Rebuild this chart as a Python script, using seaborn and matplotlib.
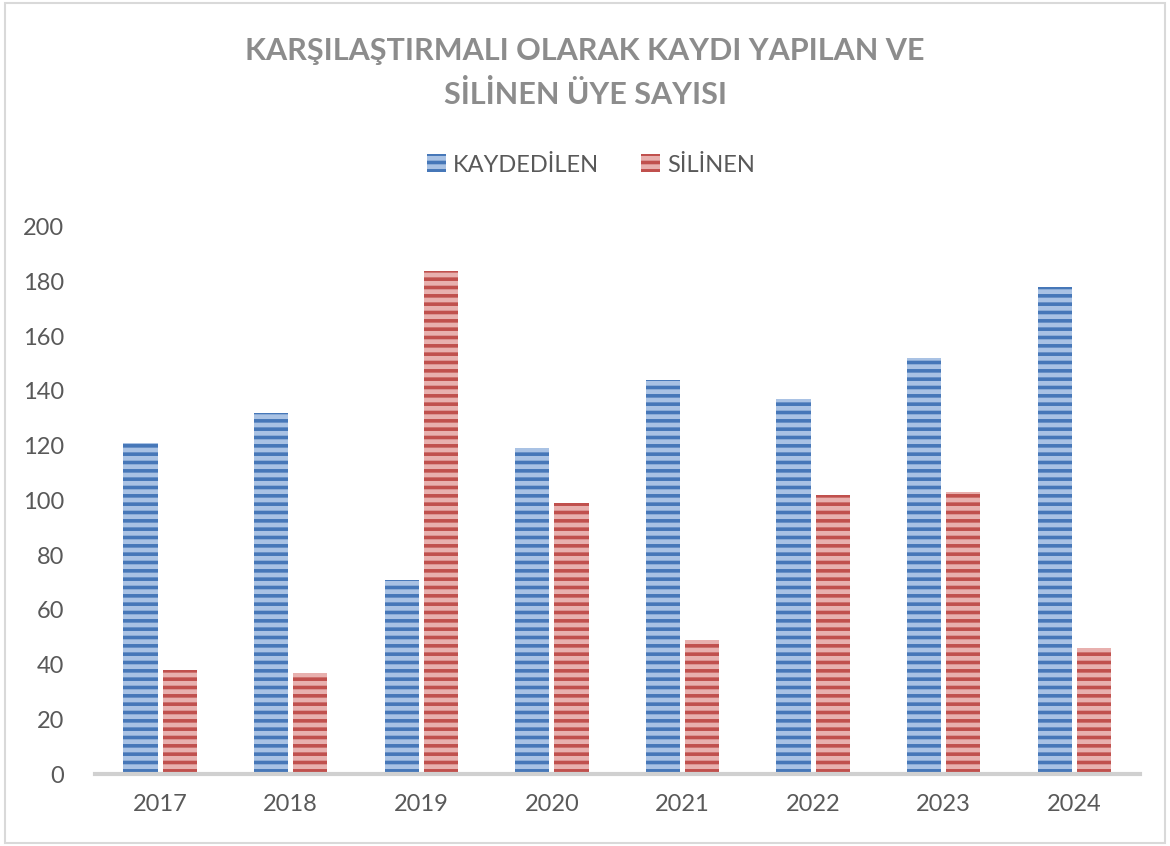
import pandas as pd
import matplotlib.pyplot as plt
import seaborn as sns
from matplotlib.patches import Patch, Rectangle

# chart data
years = ["2017", "2018", "2019", "2020", "2021", "2022", "2023", "2024"]
kaydedilen = [121, 132, 71, 119, 144, 137, 152, 178]
silinen = [38, 37, 184, 99, 49, 102, 103, 46]
series_names = ["KAYDEDİLEN", "SİLİNEN"]

df = pd.DataFrame({
    "yil": years * 2,
    "seri": [series_names[0]] * len(years) + [series_names[1]] * len(years),
    "deger": kaydedilen + silinen,
})

sns.set_style("white")
plt.rcParams["font.family"] = ["Lato", "DejaVu Sans"]
plt.rcParams["hatch.linewidth"] = 2.6

dark = {"KAYDEDİLEN": "#4677b8", "SİLİNEN": "#c0504d"}
light = {"KAYDEDİLEN": "#a9c2e4", "SİLİNEN": "#e8b0ae"}
text_gray = "#595959"

fig = plt.figure(figsize=(11.7, 8.46), dpi=100)
ax = fig.add_axes([0.081, 0.085, 0.893, 0.647])

sns.barplot(data=df, x="yil", y="deger", hue="seri", order=years,
            hue_order=series_names, palette=dark, width=0.6, gap=0.13,
            legend=False, ax=ax)

# striped fill: light face with dark horizontal hatch
for bars, name in zip(ax.containers, series_names):
    for bar in bars:
        bar.set_facecolor(light[name])
        bar.set_edgecolor(dark[name])
        bar.set_linewidth(0)
        bar.set_hatch("--")

ax.set_ylim(0, 200)
ax.set_yticks(range(0, 201, 20))
ax.set_xlim(-0.5, len(years) - 0.5)
ax.set_xlabel("")
ax.set_ylabel("")
ax.tick_params(axis="both", labelsize=17, colors=text_gray, length=0)
ax.tick_params(axis="x", pad=14)
ax.tick_params(axis="y", pad=22)
for s in ["top", "right", "left"]:
    ax.spines[s].set_visible(False)
ax.spines["bottom"].set_color("#d0d0d0")
ax.spines["bottom"].set_linewidth(3)

fig.text(0.5, 0.94, "KARŞILAŞTIRMALI OLARAK KAYDI YAPILAN VE",
         ha="center", va="center", fontsize=22, fontweight="bold", color="#8c8c8c")
fig.text(0.5, 0.888, "SİLİNEN ÜYE SAYISI",
         ha="center", va="center", fontsize=22, fontweight="bold", color="#8c8c8c")

handles = [Patch(facecolor=light[n], edgecolor=dark[n], hatch="--", linewidth=0)
           for n in series_names]
fig.legend(handles, series_names, loc="center", bbox_to_anchor=(0.505, 0.805),
           ncol=2, frameon=False, fontsize=17, labelcolor=text_gray,
           handlelength=0.8, handleheight=0.8, handletextpad=0.3, columnspacing=1.8)

# light frame around the chart area
fig.patches.append(Rectangle((0.004, 0.004), 0.992, 0.992, transform=fig.transFigure,
                             fill=False, edgecolor="#d9d9d9", linewidth=1.5))

fig.savefig("out.png", dpi=100)
plt.close(fig)
